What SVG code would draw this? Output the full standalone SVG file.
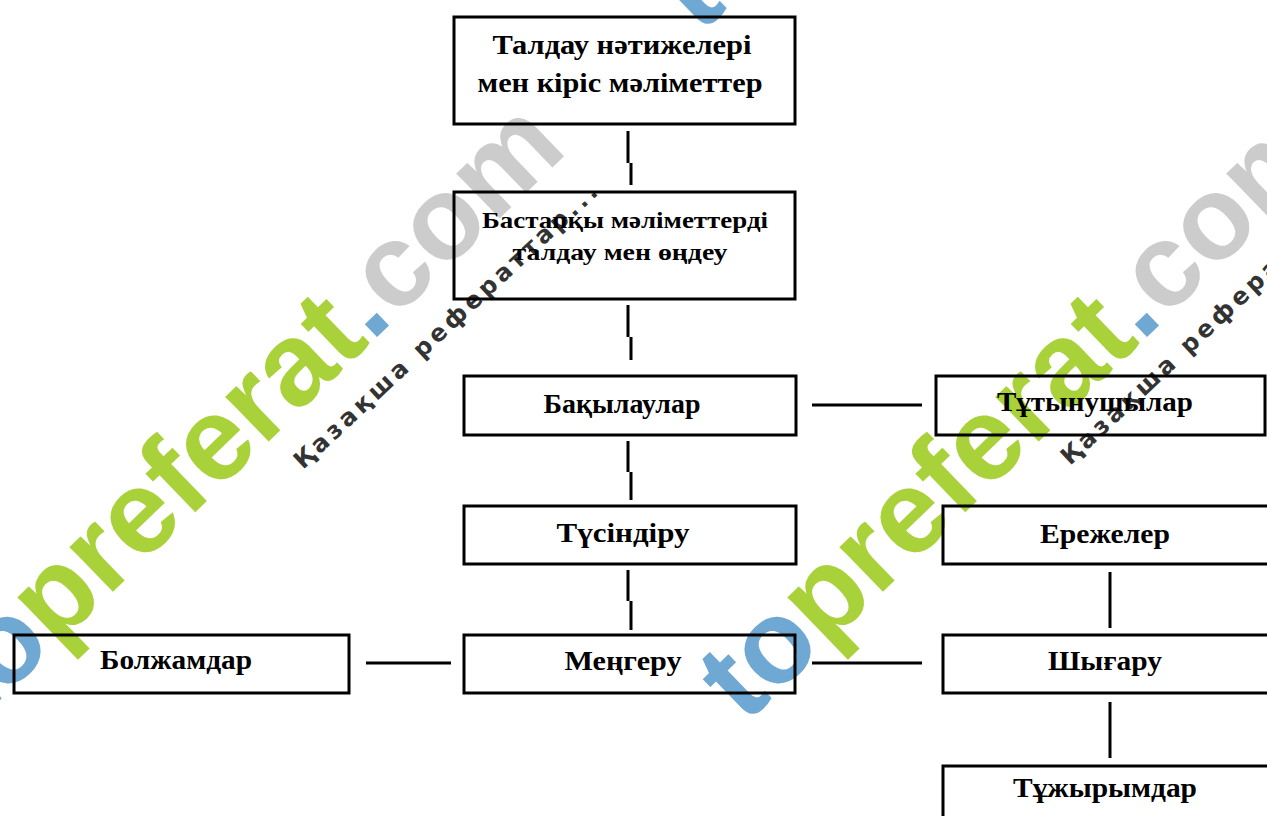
<svg xmlns="http://www.w3.org/2000/svg" width="1267" height="816" viewBox="0 0 1267 816">
<style>
.box{fill:none;stroke:#000;stroke-width:3}
.lbl{font-family:"Liberation Serif","Times New Roman",serif;font-size:27px;fill:#000;text-anchor:middle;font-weight:bold}
.con{stroke:#000;stroke-width:3;fill:none}
.wm{font-family:"Liberation Sans",Arial,sans-serif;font-weight:bold;font-size:118px}
.wm2{font-family:"DejaVu Sans",sans-serif;font-weight:bold;font-size:24px;fill:#333}
.b{fill:#6fa8d2}.g{fill:#a9d23a}.c{fill:#cccccc}
</style>
<rect width="1267" height="816" fill="#fff"/>
<g id="watermark">
<text class="wm" transform="translate(-25,725) rotate(-44)"><tspan class="b">to</tspan><tspan class="g">preferat</tspan><tspan class="b">.</tspan><tspan class="c">com</tspan></text>
<text class="wm" transform="translate(745,725) rotate(-44)"><tspan class="b">to</tspan><tspan class="g">preferat</tspan><tspan class="b">.</tspan><tspan class="c">com</tspan></text>
<text class="wm" transform="translate(700,35) rotate(-44)"><tspan class="b">to</tspan><tspan class="g">preferat</tspan></text>
<text class="wm2" transform="translate(303,470) rotate(-43)" textLength="405">Қазақша рефераттар...</text>
<text class="wm2" transform="translate(1070,466) rotate(-43)" textLength="405">Қазақша рефераттар...</text>
</g>
<g id="connectors">
<path class="con" d="M628,131V163M631,163V185"/>
<path class="con" d="M628,305V337M631,337V360"/>
<path class="con" d="M628,441V472M631,472V500"/>
<path class="con" d="M628,570V601M631,601V630"/>
<path class="con" d="M812,405H922"/>
<path class="con" d="M366,663H451"/>
<path class="con" d="M812,663H922"/>
<path class="con" d="M1110,572V628"/>
<path class="con" d="M1110,702V758"/>
</g>
<g id="n1"><rect class="box" x="454" y="17" width="341" height="107"/>
<text class="lbl" x="622" y="54" textLength="259" lengthAdjust="spacingAndGlyphs">Талдау нәтижелері</text>
<text class="lbl" x="620" y="92" textLength="285" lengthAdjust="spacingAndGlyphs">мен кіріс мәліметтер</text></g>
<g id="n2"><rect class="box" x="454" y="192" width="341" height="107"/>
<text class="lbl" x="625" y="228" textLength="286" lengthAdjust="spacingAndGlyphs" style="font-size:24px">Бастапқы мәліметтерді</text>
<text class="lbl" x="620" y="260" textLength="215" lengthAdjust="spacingAndGlyphs" style="font-size:24px">талдау мен өңдеу</text></g>
<g id="n3"><rect class="box" x="464" y="376" width="332" height="59"/>
<text class="lbl" x="622" y="413" textLength="157" lengthAdjust="spacingAndGlyphs">Бақылаулар</text></g>
<g id="n4"><rect class="box" x="936" y="376" width="329" height="59"/>
<text class="lbl" x="1095" y="411" textLength="196" lengthAdjust="spacingAndGlyphs">Тұтынушылар</text></g>
<g id="n5"><rect class="box" x="464" y="506" width="332" height="58"/>
<text class="lbl" x="623" y="542" textLength="133" lengthAdjust="spacingAndGlyphs">Түсіндіру</text></g>
<g id="n6"><rect class="box" x="943" y="506" width="340" height="58"/>
<text class="lbl" x="1105" y="543" textLength="130" lengthAdjust="spacingAndGlyphs">Ережелер</text></g>
<g id="n7"><rect class="box" x="14" y="635" width="335" height="58"/>
<text class="lbl" x="176" y="669" textLength="152" lengthAdjust="spacingAndGlyphs">Болжамдар</text></g>
<g id="n8"><rect class="box" x="464" y="635" width="331" height="58"/>
<text class="lbl" x="623" y="670" textLength="117" lengthAdjust="spacingAndGlyphs">Меңгеру</text></g>
<g id="n9"><rect class="box" x="943" y="635" width="340" height="58"/>
<text class="lbl" x="1105" y="670" textLength="114" lengthAdjust="spacingAndGlyphs">Шығару</text></g>
<g id="n10"><rect class="box" x="943" y="766" width="340" height="70"/>
<text class="lbl" x="1105" y="797" textLength="184" lengthAdjust="spacingAndGlyphs">Тұжырымдар</text></g>
</svg>
